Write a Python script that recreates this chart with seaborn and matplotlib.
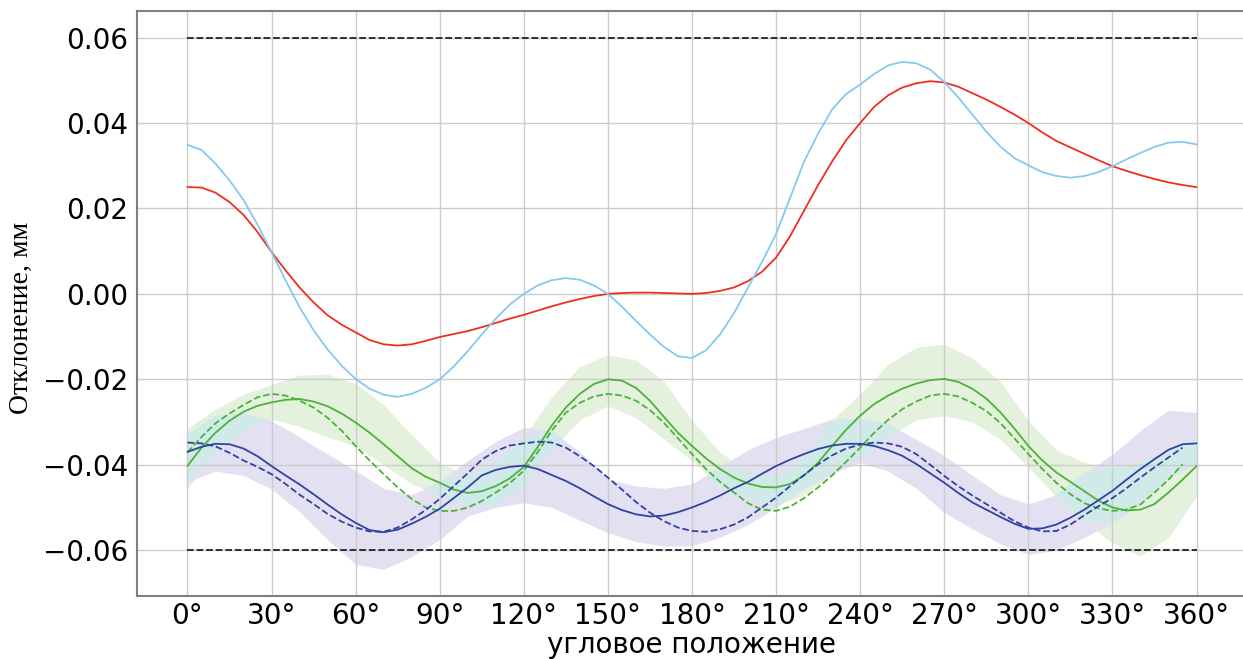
import numpy as np
import matplotlib
matplotlib.use("Agg")
import matplotlib.pyplot as plt
import seaborn as sns

# angles, degrees
angles = list(range(0, 361, 5))
angles_dash = list(range(0, 356, 5))
angles_band = list(range(0, 361, 10))

red = [0.0250, 0.0249, 0.0237, 0.0215, 0.0185, 0.0145, 0.0098, 0.0055, 0.0015, -0.0020,
       -0.0050, -0.0072, -0.0090, -0.0108, -0.0118, -0.0121, -0.0118, -0.0110, -0.0101, -0.0094,
       -0.0087, -0.0078, -0.0068, -0.0058, -0.0049, -0.0039, -0.0029, -0.0020, -0.0012, -0.0005,
       0.0000, 0.0002, 0.0003, 0.0003, 0.0002, 0.0001, 0.0000, 0.0002, 0.0007, 0.0015,
       0.0030, 0.0052, 0.0085, 0.0135, 0.0195, 0.0255, 0.0310, 0.0360, 0.0400, 0.0438,
       0.0465, 0.0483, 0.0493, 0.0498, 0.0495, 0.0485, 0.0470, 0.0455, 0.0438, 0.0420,
       0.0400, 0.0378, 0.0358, 0.0343, 0.0328, 0.0313, 0.0299, 0.0288, 0.0278, 0.0269,
       0.0261, 0.0255, 0.0250]
sky = [0.0349, 0.0337, 0.0305, 0.0266, 0.0220, 0.0162, 0.0098, 0.0032, -0.0031, -0.0085,
       -0.0130, -0.0168, -0.0199, -0.0222, -0.0236, -0.0241, -0.0234, -0.0220, -0.0200, -0.0170,
       -0.0134, -0.0095, -0.0058, -0.0025, 0.0000, 0.0020, 0.0032, 0.0037, 0.0033, 0.0020,
       0.0000, -0.0030, -0.0063, -0.0095, -0.0124, -0.0146, -0.0150, -0.0132, -0.0095, -0.0045,
       0.0015, 0.0075, 0.0140, 0.0225, 0.0310, 0.0375, 0.0432, 0.0468, 0.0490, 0.0515,
       0.0535, 0.0543, 0.0540, 0.0525, 0.0496, 0.0460, 0.0420, 0.0380, 0.0345, 0.0318,
       0.0301, 0.0285, 0.0276, 0.0272, 0.0276, 0.0285, 0.0299, 0.0315, 0.0330, 0.0344,
       0.0354, 0.0356, 0.0350]
green = [-0.0403, -0.0360, -0.0325, -0.0297, -0.0276, -0.0262, -0.0254, -0.0248, -0.0246, -0.0252,
         -0.0263, -0.0280, -0.0301, -0.0325, -0.0352, -0.0380, -0.0408, -0.0428, -0.0442, -0.0458,
         -0.0466, -0.0462, -0.0450, -0.0432, -0.0405, -0.0358, -0.0308, -0.0266, -0.0234, -0.0211,
         -0.0200, -0.0203, -0.0220, -0.0250, -0.0288, -0.0325, -0.0356, -0.0385, -0.0410, -0.0430,
         -0.0444, -0.0452, -0.0453, -0.0445, -0.0425, -0.0395, -0.0356, -0.0318, -0.0285, -0.0258,
         -0.0238, -0.0222, -0.0210, -0.0202, -0.0199, -0.0206, -0.0222, -0.0245, -0.0277, -0.0315,
         -0.0356, -0.0390, -0.0418, -0.0440, -0.0462, -0.0484, -0.0500, -0.0507, -0.0505, -0.0492,
         -0.0465, -0.0435, -0.0403]
green_dash = [-0.0371, -0.0335, -0.0303, -0.0280, -0.0260, -0.0242, -0.0234, -0.0238, -0.0250, -0.0266,
              -0.0290, -0.0320, -0.0356, -0.0390, -0.0422, -0.0453, -0.0480, -0.0500, -0.0508, -0.0508,
              -0.0500, -0.0485, -0.0465, -0.0443, -0.0414, -0.0370, -0.0320, -0.0278, -0.0255, -0.0240,
              -0.0234, -0.0238, -0.0250, -0.0272, -0.0302, -0.0338, -0.0375, -0.0410, -0.0440, -0.0465,
              -0.0490, -0.0505, -0.0508, -0.0498, -0.0478, -0.0453, -0.0425, -0.0393, -0.0360, -0.0325,
              -0.0295, -0.0270, -0.0252, -0.0238, -0.0234, -0.0240, -0.0255, -0.0274, -0.0302, -0.0338,
              -0.0375, -0.0410, -0.0442, -0.0469, -0.0490, -0.0502, -0.0508, -0.0505, -0.0493, -0.0465,
              -0.0435, -0.0399]
blue = [-0.0370, -0.0358, -0.0351, -0.0352, -0.0362, -0.0380, -0.0403, -0.0425, -0.0446, -0.0469,
        -0.0493, -0.0516, -0.0536, -0.0553, -0.0558, -0.0552, -0.0538, -0.0522, -0.0503, -0.0478,
        -0.0453, -0.0425, -0.0412, -0.0405, -0.0402, -0.0410, -0.0424, -0.0438, -0.0455, -0.0474,
        -0.0492, -0.0506, -0.0516, -0.0521, -0.0519, -0.0511, -0.0500, -0.0487, -0.0472, -0.0455,
        -0.0440, -0.0421, -0.0403, -0.0388, -0.0375, -0.0363, -0.0355, -0.0351, -0.0351, -0.0356,
        -0.0366, -0.0379, -0.0398, -0.0420, -0.0442, -0.0466, -0.0488, -0.0505, -0.0522, -0.0538,
        -0.0550, -0.0549, -0.0540, -0.0524, -0.0505, -0.0483, -0.0461, -0.0435, -0.0410, -0.0387,
        -0.0365, -0.0352, -0.0350]
blue_dash = [-0.0348, -0.0350, -0.0357, -0.0372, -0.0390, -0.0405, -0.0422, -0.0445, -0.0470, -0.0492,
             -0.0515, -0.0533, -0.0547, -0.0556, -0.0557, -0.0547, -0.0528, -0.0506, -0.0480, -0.0450,
             -0.0420, -0.0388, -0.0368, -0.0355, -0.0350, -0.0346, -0.0348, -0.0360, -0.0380, -0.0403,
             -0.0430, -0.0458, -0.0487, -0.0512, -0.0532, -0.0547, -0.0555, -0.0557, -0.0551, -0.0540,
             -0.0523, -0.0500, -0.0477, -0.0450, -0.0424, -0.0399, -0.0378, -0.0362, -0.0353, -0.0348,
             -0.0350, -0.0358, -0.0375, -0.0400, -0.0426, -0.0450, -0.0472, -0.0492, -0.0512, -0.0532,
             -0.0547, -0.0556, -0.0555, -0.0540, -0.0518, -0.0497, -0.0478, -0.0455, -0.0430, -0.0406,
             -0.0383, -0.0360]

green_hi = [-0.0315, -0.0270, -0.0235, -0.0212, -0.0190, -0.0188, -0.0210, -0.0260, -0.0330, -0.0395,
            -0.0425, -0.0400, -0.0336, -0.0240, -0.0170, -0.0142, -0.0155, -0.0205, -0.0297, -0.0370,
            -0.0415, -0.0433, -0.0385, -0.0295, -0.0234, -0.0165, -0.0125, -0.0118, -0.0150, -0.0205,
            -0.0297, -0.0365, -0.0395, -0.0406, -0.0395, -0.0365, -0.0340]
green_lo = [-0.0455, -0.0375, -0.0320, -0.0293, -0.0310, -0.0335, -0.0356, -0.0400, -0.0445, -0.0473,
            -0.0495, -0.0495, -0.0453, -0.0365, -0.0295, -0.0262, -0.0290, -0.0340, -0.0390, -0.0450,
            -0.0480, -0.0496, -0.0470, -0.0422, -0.0383, -0.0335, -0.0295, -0.0285, -0.0300, -0.0340,
            -0.0406, -0.0475, -0.0535, -0.0582, -0.0614, -0.0570, -0.0473]
blue_hi = [-0.0330, -0.0285, -0.0280, -0.0297, -0.0335, -0.0375, -0.0414, -0.0455, -0.0470, -0.0440,
           -0.0390, -0.0345, -0.0313, -0.0320, -0.0370, -0.0433, -0.0450, -0.0455, -0.0445, -0.0405,
           -0.0365, -0.0336, -0.0315, -0.0293, -0.0293, -0.0305, -0.0340, -0.0379, -0.0425, -0.0470,
           -0.0492, -0.0470, -0.0420, -0.0375, -0.0320, -0.0272, -0.0278]
blue_lo = [-0.0440, -0.0415, -0.0425, -0.0457, -0.0510, -0.0575, -0.0633, -0.0645, -0.0615, -0.0575,
           -0.0520, -0.0500, -0.0489, -0.0500, -0.0530, -0.0559, -0.0580, -0.0590, -0.0590, -0.0570,
           -0.0540, -0.0500, -0.0455, -0.0420, -0.0395, -0.0415, -0.0455, -0.0512, -0.0550, -0.0585,
           -0.0610, -0.0600, -0.0570, -0.0536, -0.0490, -0.0430, -0.0398]

limit = 0.06
xticks = list(range(0, 361, 30))
yticks = [-0.06, -0.04, -0.02, 0.00, 0.02, 0.04, 0.06]


def main():
    sns.set_style("whitegrid", {"grid.color": "#cccccc", "axes.edgecolor": "#808080",
                                "text.color": "black", "axes.labelcolor": "black"})
    fig = plt.figure(figsize=(12.43, 6.59), dpi=100)
    ax = fig.add_axes([0.1102, 0.0956, 0.8930, 0.8877])

    x = np.array(angles_band)
    ghi, glo = np.array(green_hi), np.array(green_lo)
    bhi, blo = np.array(blue_hi), np.array(blue_lo)
    ax.fill_between(x, glo, ghi, color="#e4f1dc", lw=0, zorder=0.1)
    ax.fill_between(x, blo, bhi, color="#e3e1f1", lw=0, zorder=0.2)
    # where the two bands overlap the original shows a teal tint
    top = np.minimum(ghi, bhi)
    bot = np.maximum(glo, blo)
    ax.fill_between(x, bot, top, where=top > bot, interpolate=True,
                    color="#cfeae8", lw=0, zorder=0.3)

    lw = 1.3
    sns.lineplot(x=angles, y=[limit] * len(angles), color="#222222", ls="--", lw=lw, ax=ax)
    sns.lineplot(x=angles, y=[-limit] * len(angles), color="#222222", ls="--", lw=lw, ax=ax)
    sns.lineplot(x=angles, y=red, color="#ee2e1f", lw=lw, ax=ax)
    sns.lineplot(x=angles, y=sky, color="#86c9ef", lw=lw, ax=ax)
    sns.lineplot(x=angles, y=green, color="#4cb23a", lw=lw, ax=ax)
    sns.lineplot(x=angles_dash, y=green_dash, color="#4cb23a", ls="--", lw=lw, ax=ax)
    sns.lineplot(x=angles, y=blue, color="#3242a3", lw=lw, ax=ax)
    sns.lineplot(x=angles_dash, y=blue_dash, color="#3242a3", ls="--", lw=lw, ax=ax)

    ax.set_xticks(xticks)
    ax.set_xticklabels([f"{t}°" for t in xticks])
    ax.set_yticks(yticks)
    ax.tick_params(labelsize=20, length=3.5, color="#808080", labelcolor="black")
    ax.tick_params(axis="x", pad=1)
    ax.tick_params(axis="y", pad=3)
    ax.grid(True, color="#cccccc", lw=1)
    for s in ax.spines.values():
        s.set_linewidth(1.5)
    ax.margins(x=0.05, y=0.05)

    ax.set_ylabel("Отклонение, мм", fontfamily="Liberation Serif", fontsize=20, color="black")
    ax.yaxis.set_label_coords(-0.093, 0.476)
    lab = ax.set_xlabel("угловое положение", fontsize=20, color="black")
    lab.set_va("baseline")
    ax.xaxis.set_label_coords(0.5, -0.097)

    fig.savefig("out.png", dpi=100)


if __name__ == "__main__":
    main()
